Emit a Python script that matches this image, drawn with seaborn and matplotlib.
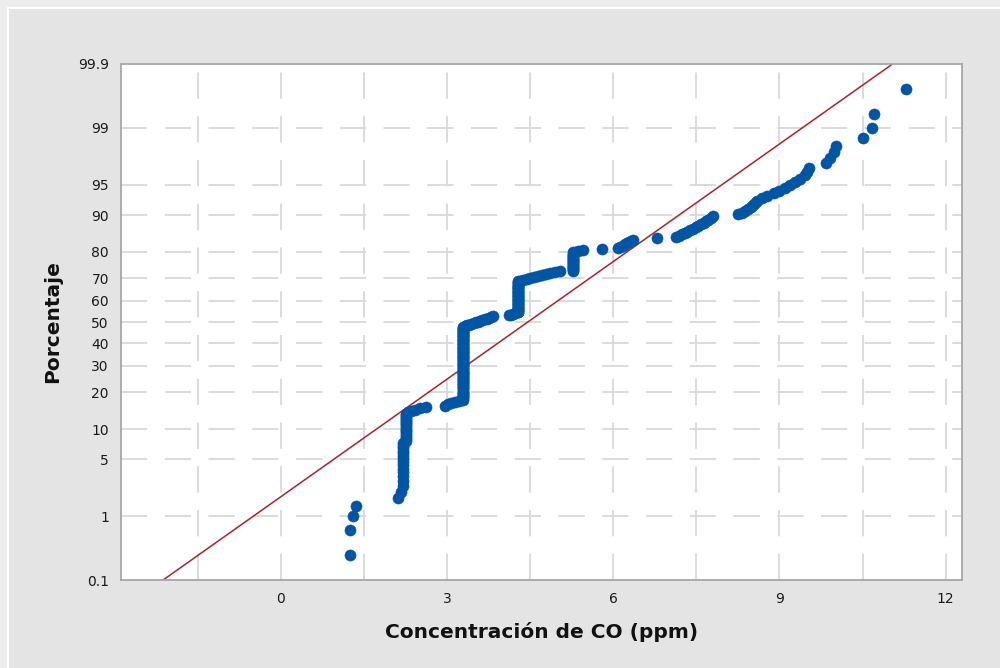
import matplotlib
matplotlib.use("Agg")
import numpy as np
import pandas as pd
import matplotlib.pyplot as plt
import seaborn as sns
from matplotlib.patches import Rectangle
from matplotlib.ticker import NullLocator
from statistics import NormalDist

# Concentraciones de CO (ppm), con el numero de observaciones
co_ppm = [
    1.26, 1.31, 1.36, 2.12, 2.18, 2.21, 2.26, 2.30, 2.36, 2.43,
    2.52, 2.63, 2.96, 3.02, 3.08, 3.15, 3.22, 3.29, 3.33, 3.36,
    3.40, 3.44, 3.48, 3.52, 3.56, 3.60, 3.64, 3.68, 3.72, 3.76,
    3.80, 3.84, 4.12, 4.15, 4.19, 4.23, 4.28, 4.32, 4.38, 4.44,
    4.50, 4.57, 4.64, 4.71, 4.78, 4.86, 4.95, 5.04, 5.28, 5.36,
    5.46, 5.79, 6.09, 6.13, 6.17, 6.21, 6.25, 6.29, 6.33, 6.36,
    6.80, 7.14, 7.19, 7.24, 7.29, 7.34, 7.39, 7.44, 7.49, 7.54,
    7.59, 7.64, 7.68, 7.72, 7.77, 7.81, 8.26, 8.32, 8.38, 8.43,
    8.48, 8.52, 8.56, 8.60, 8.68, 8.78, 8.90, 9.00, 9.10, 9.20,
    9.28, 9.38, 9.46, 9.50, 9.54, 9.85, 9.92, 9.98, 10.03, 10.50,
    10.68, 10.71, 11.28,
]
n_obs = [
    2, 1, 1, 1, 1, 14, 17, 1, 1, 1,
    1, 1, 1, 1, 1, 1, 1, 82, 1, 1,
    1, 1, 1, 1, 1, 1, 1, 1, 1, 1,
    1, 1, 1, 1, 1, 1, 39, 1, 1, 1,
    1, 1, 1, 1, 1, 1, 1, 1, 19, 1,
    1, 1, 1, 1, 1, 1, 1, 1, 1, 1,
    1, 1, 1, 1, 1, 1, 1, 1, 1, 1,
    1, 1, 1, 1, 1, 1, 1, 1, 1, 1,
    1, 1, 1, 1, 1, 1, 1, 1, 1, 1,
    1, 1, 1, 1, 1, 1, 1, 1, 1, 1,
    1, 1, 1,
]

# recta de referencia normal (media y desviacion leidas)
fit_mean = 4.46
fit_sd = 2.13

pct_ticks = [0.1, 1, 5, 10, 20, 30, 40, 50, 60, 70, 80, 90, 95, 99, 99.9]
pct_labels = ["0.1", "1", "5", "10", "20", "30", "40", "50", "60", "70",
              "80", "90", "95", "99", "99.9"]
x_ticks = [0, 3, 6, 9, 12]

_nd = NormalDist()


def to_probit(p):
    p = np.clip(np.asarray(p, dtype=float) / 100.0, 1e-9, 1 - 1e-9)
    return np.vectorize(_nd.inv_cdf, otypes=[float])(p)


def from_probit(z):
    return np.vectorize(_nd.cdf, otypes=[float])(np.asarray(z, dtype=float)) * 100.0


# posiciones de rango mediano (Minitab)
x_sorted = np.sort(np.repeat(co_ppm, n_obs))
n = len(x_sorted)
rank = np.arange(1, n + 1)
df = pd.DataFrame({"co": x_sorted, "pct": (rank - 0.3) / (n + 0.4) * 100})

z_ends = np.array([-1.0, 1.0]) * _nd.inv_cdf(0.999)
fit_df = pd.DataFrame({"co": fit_mean + fit_sd * z_ends,
                       "pct": from_probit(z_ends)})

sns.set_style("white")
plt.rcParams["font.family"] = ["DejaVu Sans"]

fig = plt.figure(figsize=(10, 6.68), dpi=100, facecolor="#ededed")
# panel gris con borde claro arriba y a la izquierda
fig.patches.append(Rectangle((8 / 1000, -0.05), 1.1, 1.05 - 8 / 668,
                             transform=fig.transFigure, facecolor="#e4e4e4",
                             edgecolor="white", linewidth=1.5, zorder=-10))
ax = fig.add_axes([0.1207, 0.1317, 0.841, 0.7725])
ax.set_zorder(1)
ax.set_facecolor("white")

ax.set_yscale("function", functions=(to_probit, from_probit))
ax.set_xlim(-2.887, 12.29)
ax.set_ylim(0.1, 99.9)

grid_kw = dict(color="#dadada", linewidth=1.4, dashes=(13.5, 9), zorder=0)
for gx in np.arange(-1.5, 12.1, 1.5):
    ax.axvline(gx, **grid_kw)
for gy in pct_ticks[1:-1]:
    ax.axhline(gy, **grid_kw)

sns.lineplot(data=fit_df, x="co", y="pct", ax=ax, color="#a82428",
             linewidth=1.1, sort=False, zorder=2)
sns.scatterplot(data=df, x="co", y="pct", ax=ax, color="#0055a5",
                s=64, edgecolor="#0055a5", linewidth=0.4, zorder=3)

ax.set_xticks(x_ticks)
ax.set_xticklabels([str(t) for t in x_ticks])
ax.set_yticks(pct_ticks)
ax.set_yticklabels(pct_labels)
ax.yaxis.set_minor_locator(NullLocator())
ax.tick_params(axis="both", direction="out", length=5, width=1.2,
               color="#a0a0a0", labelsize=10, labelcolor="#1a1a1a", pad=3.5)

for sp in ax.spines.values():
    sp.set_color("#a6a6a6")
    sp.set_linewidth(1.3)

ax.set_xlabel("Concentración de CO (ppm)", fontsize=14.5, fontweight="bold",
              color="#111111", labelpad=12)
ax.set_ylabel("Porcentaje", fontsize=14.5, fontweight="bold",
              color="#111111", labelpad=11)

fig.savefig("out.png", dpi=100, facecolor=fig.get_facecolor())
